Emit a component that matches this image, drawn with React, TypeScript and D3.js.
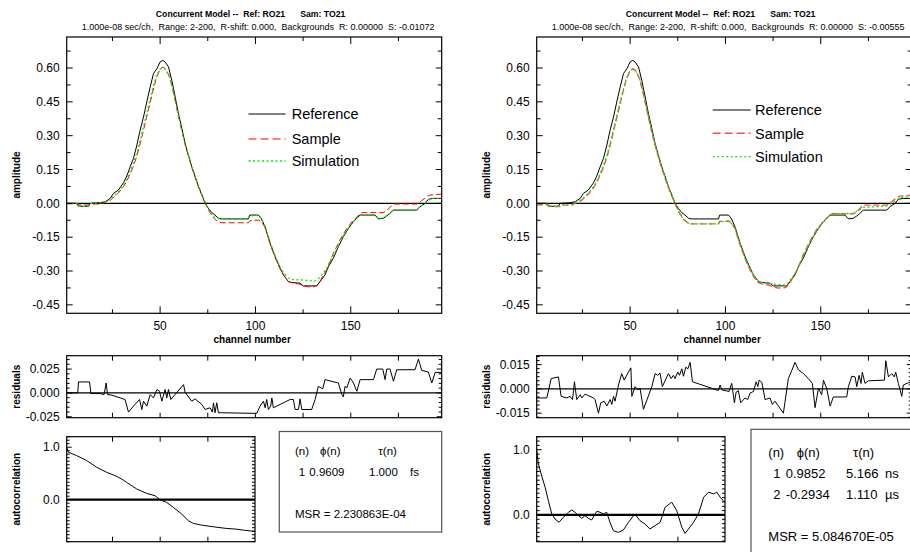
import React from "react";
import * as d3 from "d3";

type Pt = [number, number];

// Reference waveform RO21: [channel, amplitude]
const reference: Pt[] = [
  [1, 0], [6.3, 0], [7.2, -0.013], [12.4, -0.013], [13.3, 0], [18.5, 0.003], [21.2, 0.007],
  [23.8, 0.022], [25.5, 0.044], [28.1, 0.059], [30.8, 0.091], [32.5, 0.121], [34.3, 0.162],
  [36, 0.199], [37.8, 0.258], [39.5, 0.324], [41.3, 0.383], [43, 0.45], [44.8, 0.516],
  [46.5, 0.575], [48.3, 0.597], [50, 0.627], [51.4, 0.634], [52.6, 0.627], [54.4, 0.605],
  [56.1, 0.546], [57.9, 0.472], [59.6, 0.398], [61.4, 0.332], [63.1, 0.265], [64.8, 0.214],
  [66.6, 0.162], [68.4, 0.118], [70.1, 0.074], [71.9, 0.037], [73.6, 0], [75.3, -0.022],
  [77.1, -0.041], [78.8, -0.052], [80.6, -0.066], [82, -0.069], [96.3, -0.069], [97, -0.052],
  [101.6, -0.052], [103, -0.066], [105, -0.103], [107.7, -0.177], [110.3, -0.236], [113, -0.288],
  [114.7, -0.317], [117.3, -0.347], [119, -0.351], [123.4, -0.354], [125.1, -0.366],
  [132.2, -0.366], [133.9, -0.347], [136.5, -0.317], [138.3, -0.28], [140.9, -0.243],
  [143.5, -0.192], [146.1, -0.148], [148.8, -0.111], [151.4, -0.081], [154.9, -0.052],
  [162.7, -0.052], [164.5, -0.069], [167.1, -0.066], [168.9, -0.056], [170.6, -0.044],
  [172.3, -0.03], [184.6, -0.03], [186.3, -0.015], [189, 0], [190.7, 0.018], [193.3, 0.022],
  [197.7, 0.022],
];

// Sample TO21, background S = -0.01072
const sampleA: Pt[] = [
  [1, -0.002], [7, -0.002], [7.5, -0.007], [13, -0.007], [13.5, -0.003], [19.5, -0.003],
  [21, 0.005], [24, 0.015], [26, 0.03], [28, 0.045], [30, 0.065], [32, 0.09], [34, 0.125],
  [36, 0.165], [38, 0.215], [40, 0.28], [42, 0.35], [44, 0.42], [46, 0.49], [48, 0.555],
  [50, 0.595], [51.5, 0.605], [53, 0.595], [55, 0.56], [57, 0.49], [59, 0.41], [61, 0.335],
  [63, 0.265], [65, 0.205], [67, 0.15], [69, 0.1], [71, 0.055], [73, 0.015], [74, -0.005],
  [76, -0.04], [78, -0.065], [80, -0.08], [82, -0.086], [96.3, -0.086], [97, -0.077],
  [101.6, -0.074], [103, -0.081], [105, -0.105], [107.7, -0.18], [110.3, -0.24], [113, -0.292],
  [115, -0.322], [117.3, -0.347], [119, -0.352], [123, -0.358], [125, -0.366], [127, -0.369],
  [130, -0.372], [132, -0.365], [134, -0.345], [135.5, -0.32], [137.4, -0.295], [140.9, -0.221],
  [144.4, -0.162], [147.9, -0.111], [151.4, -0.074], [155.8, -0.041], [167.1, -0.041],
  [168.9, -0.032], [172.3, -0.003], [184.6, -0.003], [187.2, 0.012], [189.9, 0.03],
  [191.6, 0.037], [197.7, 0.041],
];

const simulationA: Pt[] = [
  [1, 0], [6.3, 0], [7.2, -0.013], [12.4, -0.013], [13.3, 0], [18.5, 0.002], [21, 0.006],
  [24, 0.018], [26, 0.035], [28, 0.05], [30, 0.072], [32, 0.1], [34, 0.135], [36, 0.178],
  [38, 0.23], [40, 0.295], [42, 0.365], [44, 0.435], [46, 0.505], [48, 0.565], [50, 0.596],
  [51.5, 0.6], [53, 0.592], [55, 0.558], [57, 0.49], [59, 0.412], [61, 0.338], [63, 0.27],
  [65, 0.21], [67, 0.155], [69, 0.105], [71, 0.06], [73, 0.018], [74.5, -0.01], [76, -0.035],
  [78, -0.058], [80, -0.067], [82, -0.069], [96.3, -0.069], [97, -0.054], [101.6, -0.054],
  [103, -0.068], [105, -0.1], [107.7, -0.172], [110.3, -0.232], [113, -0.283], [115, -0.312],
  [117.3, -0.33], [119, -0.338], [125, -0.34], [131, -0.345], [133, -0.335], [135, -0.315],
  [137.4, -0.285], [140.9, -0.23], [144.4, -0.17], [147.9, -0.118], [151.4, -0.08],
  [154.9, -0.052], [162.7, -0.052], [164.5, -0.068], [167.1, -0.064], [168.9, -0.055],
  [170.6, -0.043], [172.3, -0.03], [184.6, -0.03], [186.3, -0.015], [189, 0.002],
  [190.7, 0.016], [193.3, 0.022], [197.7, 0.022],
];

// Sample TO21, background S = -0.00555
const sampleB: Pt[] = [
  [1, -0.006], [7, -0.006], [8, -0.014], [13, -0.014], [14, -0.008], [19.5, -0.008],
  [21, 0], [24, 0.01], [26, 0.025], [28, 0.04], [30, 0.06], [32, 0.085], [34, 0.12],
  [36, 0.16], [38, 0.21], [40, 0.275], [42, 0.345], [44, 0.415], [46, 0.485], [48, 0.55],
  [50, 0.588], [51.5, 0.597], [53, 0.588], [55, 0.553], [57, 0.484], [59, 0.404], [61, 0.33],
  [63, 0.26], [65, 0.2], [67, 0.145], [69, 0.095], [71, 0.05], [73, 0.01], [74, -0.01],
  [76, -0.045], [78, -0.07], [80, -0.085], [82, -0.091], [96.3, -0.091], [97, -0.08],
  [101.6, -0.078], [103, -0.086], [105, -0.11], [107.7, -0.185], [110.3, -0.245],
  [113, -0.297], [115, -0.327], [117.3, -0.352], [119, -0.357], [123, -0.363], [125, -0.371],
  [127, -0.374], [130, -0.377], [132, -0.37], [134, -0.35], [135.5, -0.325], [137.4, -0.3],
  [140.9, -0.226], [144.4, -0.167], [147.9, -0.116], [151.4, -0.079], [155.8, -0.046],
  [167.1, -0.046], [168.9, -0.037], [172.3, -0.008], [184.6, -0.008], [187.2, 0.007],
  [189.9, 0.025], [191.6, 0.032], [197.7, 0.036],
];

const simulationB: Pt[] = [
  [1, -0.004], [7, -0.004], [8, -0.013], [13, -0.013], [14, -0.006], [19.5, -0.005],
  [21, 0.002], [24, 0.013], [26, 0.028], [28, 0.044], [30, 0.064], [32, 0.09], [34, 0.126],
  [36, 0.167], [38, 0.218], [40, 0.283], [42, 0.352], [44, 0.422], [46, 0.492], [48, 0.553],
  [50, 0.588], [51.5, 0.594], [53, 0.586], [55, 0.552], [57, 0.485], [59, 0.406], [61, 0.332],
  [63, 0.264], [65, 0.204], [67, 0.149], [69, 0.099], [71, 0.054], [73, 0.013], [74.5, -0.015],
  [76, -0.045], [78, -0.072], [80, -0.087], [82, -0.091], [96.3, -0.091], [97, -0.082],
  [101.6, -0.08], [103, -0.088], [105, -0.112], [107.7, -0.183], [110.3, -0.243],
  [113, -0.294], [115, -0.322], [117.3, -0.345], [119, -0.35], [125, -0.358], [131, -0.362],
  [133, -0.352], [135, -0.328], [137.4, -0.298], [140.9, -0.233], [144.4, -0.172],
  [147.9, -0.12], [151.4, -0.083], [155.5, -0.045], [166.5, -0.045], [168.9, -0.036],
  [172.3, -0.018], [184.6, -0.012], [187.2, 0], [189.9, 0.015], [191.6, 0.025], [197.7, 0.03],
];

// Weighted residuals per channel
const residualsA: Pt[] = [
  [1, 0], [6.8, 0], [7.2, 0.0115], [13, 0.0115], [13.7, -0.0007], [18.5, -0.0007],
  [20.6, -0.0017], [21.7, 0.0104], [22.4, -0.0017], [24.7, -0.0024], [31.6, -0.0069],
  [33.4, -0.0201], [36, -0.0139], [39.2, -0.0069], [40.4, -0.0174], [41.3, -0.0087],
  [43, -0.0139], [44.8, -0.0017], [46.5, -0.0052], [48.3, 0.0035], [49.7, 0.0017],
  [50.9, -0.0087], [52.6, 0.0035], [53.5, -0.0052], [54.4, 0.0035], [55.6, -0.0069],
  [62.3, 0.0087], [63.1, 0.0007], [66.6, -0.0087], [68.4, -0.0063], [71.9, -0.0122],
  [73.6, -0.0174], [76.2, -0.0156], [77.4, -0.0201], [78, -0.0104], [78.8, -0.0208],
  [79.7, -0.0104], [80.6, -0.0208], [82.3, -0.0208], [100.7, -0.0215], [102.4, -0.0139],
  [104.2, -0.0087], [105.1, -0.0156], [105.9, -0.0069], [106.8, -0.0174], [108, -0.0139],
  [108.6, -0.0052], [109.4, -0.0156], [118.2, -0.0069], [119.9, -0.0069], [120.8, -0.0174],
  [122.6, -0.0174], [123.4, -0.0063], [124.3, -0.0174], [129.5, -0.0174], [131.3, -0.0069],
  [133, 0.0069], [135.3, 0.0042], [136.5, 0.0139], [143.5, 0.0104], [145.3, -0.0017],
  [146.1, -0.0042], [147, 0.0069], [147.9, 0.0052], [149.7, 0.0156], [151.4, 0.0104],
  [153.2, 0.0017], [154.9, 0.0139], [161.9, 0.0139], [163.6, 0.025], [166.8, 0.025],
  [168, 0.0139], [168.9, 0.025], [170.6, 0.025], [172.4, 0.0122], [174.1, 0.0243],
  [183.7, 0.0243], [185.5, 0.0354], [187.2, 0.0236], [190.7, 0.0219], [192.5, 0.0104],
  [194.3, 0.0215], [197.7, 0.0215],
];

const residualsB: Pt[] = [
  [1, -0.0056], [6.3, -0.0056], [8.6, 0.0064], [12.4, 0.0074], [13.8, -0.0046],
  [16.8, -0.0056], [18.5, -0.0046], [19.8, -0.0066], [20.8, 0.0044], [22, -0.0066],
  [23.8, -0.0036], [24.7, -0.0056], [26.4, -0.0032], [28.1, -0.0042], [30.8, -0.0056],
  [31.6, -0.0066], [33.4, -0.015], [34.6, -0.0086], [36.4, -0.0076], [37.8, -0.0106],
  [39.5, -0.0066], [40.4, -0.0096], [41.3, -0.0046], [42.1, -0.0076], [43.9, 0.0024],
  [45.6, 0.0094], [46.9, 0.0054], [49.1, 0.0104], [50.4, 0.013], [50.9, -0.0046],
  [52.6, 0.0014], [54, -0.0006], [55.2, 0.0004], [57, -0.0126], [61.4, 0.0014],
  [63.1, 0.0094], [64.5, 0.0084], [65.7, 0.0098], [66.9, 0.0014], [70.1, 0.0094],
  [71.5, 0.0064], [72.7, 0.0084], [73.6, 0.0064], [75, 0.0104], [75.9, 0.0084],
  [77.1, 0.0124], [78, 0.0078], [79.2, 0.0134], [80.3, 0.0124], [81.5, 0.0164],
  [82.7, 0.0044], [96.3, -0.001], [97.2, 0.0024], [98.1, -0.0006], [101.9, -0.0016],
  [103.3, 0.0034], [104.7, -0.0086], [105.6, -0.002], [106.8, -0.0012], [108, -0.0086],
  [110.3, -0.0056], [111.7, -0.0066], [112.9, -0.0026], [114.7, -0.0016], [116.1, 0.0044],
  [117, 0.0014], [117.7, 0.0054], [119.1, 0.004], [120.8, -0.0066], [123.4, -0.0056],
  [124.6, -0.0096], [126, -0.0076], [130.4, -0.015], [133, 0.0064], [134.8, 0.0114],
  [136.5, 0.0164], [138.3, 0.0118], [140.9, 0.0094], [143.5, 0.0064], [145.6, 0.0034],
  [147, -0.0116], [148.8, 0.0004], [150.5, -0.0036], [151.4, 0.0054], [153.1, 0.0004],
  [154.9, -0.0106], [156.6, -0.005], [163.6, -0.005], [164.5, 0.0014], [166.3, 0.0078],
  [168, 0.0074], [168.9, 0.0014], [170.1, 0.0084], [171.1, 0.0034], [171.8, 0.0104],
  [173.2, 0.0034], [175, 0.005], [183.4, 0.0054], [184.1, 0.0174], [185.5, 0.0074],
  [187.2, 0.0094], [188.6, 0.0074], [189.3, 0.0104], [190.7, 0.0034], [192.5, -0.0046],
  [193.3, 0.0024], [195.9, 0.0038], [197.7, 0.0038],
];

// Autocorrelation of the residuals: [lag, value]
const autocorrA: Pt[] = [
  [0, 1], [0.9, 0.904], [5.2, 0.841], [10.5, 0.745], [15.7, 0.618], [20.9, 0.522],
  [25.3, 0.459], [28.8, 0.395], [31.4, 0.331], [36.7, 0.204], [41.9, 0.121], [46.3, 0.076],
  [48.9, 0], [52.4, -0.051], [55.9, -0.146], [60.3, -0.274], [63.8, -0.401], [66.4, -0.452],
  [70.7, -0.484], [76.9, -0.516], [83.9, -0.548], [89.1, -0.561], [92.6, -0.58], [98.7, -0.605],
];

const autocorrB: Pt[] = [
  [0, 0.99], [0.9, 0.785], [2.3, 0.631], [4.4, 0.426], [6.1, 0.221], [7.9, 0.015],
  [9.6, -0.062], [11.7, -0.113], [14, -0.036], [16.6, 0.041], [18.4, 0.077], [20.1, 0.041],
  [21.9, -0.01], [23.6, -0.051], [25.3, -0.01], [27.1, -0.051], [28.8, -0.077], [31.5, 0.056],
  [33.2, 0.041], [35, 0.015], [36.7, 0.041], [38.4, -0.113], [40.2, -0.241], [42.8, -0.267],
  [45.4, -0.231], [48.1, -0.113], [51.5, 0.015], [54.1, -0.087], [56.8, -0.138],
  [59.4, -0.215], [62, -0.164], [64.7, -0.113], [67.3, 0.118], [70.8, 0.195], [73.4, 0.067],
  [76.1, -0.19], [77.8, -0.282], [79.6, -0.215], [82.2, -0.113], [84.8, 0.015], [87.5, 0.272],
  [90.1, 0.349], [92.7, 0.323], [94.4, 0.349], [96.2, 0.272], [98.4, 0.195],
];

// Fit results
const fitIndexA = [1];
const fitPhiA = [0.9609];
const fitTauA = [1.0];
const fitUnitA = ["fs"];
const msrA = 2.230863e-4;

const fitIndexB = [1, 2];
const fitPhiB = [0.9852, -0.2934];
const fitTauB = [5.166, 1.11];
const fitUnitB = ["ns", "\u00b5s"];
const msrB = 5.08467e-5;

const backgroundA = -0.01072;
const backgroundB = -0.00555;

const amplitudeLabels = [-0.45, -0.3, -0.15, 0, 0.15, 0.3, 0.45, 0.6];
const channelLabels = [50, 100, 150];
const channelTicks = [25, 50, 75, 100, 125, 150, 175];
const lagTicks = [24, 49, 74];
const resLabelsA = [-0.025, 0, 0.025];
const resLabelsB = [-0.015, 0, 0.015];
const acLabels = [0, 1];

const FONT = "'Liberation Sans', Arial, Helvetica, sans-serif";

// plain ASCII hyphen for negative numbers
const locale = d3.formatLocale({ decimal: ".", thousands: ",", grouping: [3], currency: ["", ""], minus: "-" });

function stepValues(d0: number, d1: number, step: number): number[] {
  const k0 = Math.ceil(d0 / step - 1e-9);
  const k1 = Math.floor(d1 / step + 1e-9);
  return d3.range(k0, k1 + 1).map((k) => +(k * step).toFixed(6));
}

function msrFormat(v: number): string {
  const [m, e] = v.toExponential(6).split("e");
  const n = parseInt(e, 10);
  return `MSR = ${m}E${n < 0 ? "-" : "+"}${String(Math.abs(n)).padStart(2, "0")}`;
}

interface LegendSpec { x1: number; x2: number; tx: number; ys: number[] }
interface BoxSpec {
  x: number; y: number; w: number; h: number; font: number;
  headY: number; rowY: number[]; msrY: number;
  cols: { n: number; phi: number; tau: number; unit: number; phiHead: number; tauHead: number; nHead: number };
}

interface PanelSpec {
  dx: number;
  background: number;
  sample: Pt[];
  simulation: Pt[];
  residuals: Pt[];
  autocorr: Pt[];
  resDomain: [number, number];
  resLabels: number[];
  resStep: number;
  acDomain: [number, number];
  sampleColor: string;
  sampleWidth: number;
  legend: LegendSpec;
  box: BoxSpec;
  fitIndex: number[];
  fitPhi: number[];
  fitTau: number[];
  fitUnit: string[];
  msr: number;
}

function Panel({ s }: { s: PanelSpec }) {
  const dx = s.dx;
  const L = dx + 66.7;
  const R = dx + 441.7;
  const mTop = 37, mBot = 313.3;
  const rTop = 355.7, rBot = 417.7;
  const aL = dx + 66.7, aR = dx + 255, aTop = 436.7, aBot = 541.7;
  const cx = (L + R) / 2;

  const x = d3.scaleLinear().domain([1, 197.7]).range([L, R]);
  const y = d3.scaleLinear().domain([-0.4875, 0.7375]).range([mBot, mTop]);
  const yr = d3.scaleLinear().domain(s.resDomain).range([rBot, rTop]);
  const xa = d3.scaleLinear().domain([0, 98.7]).range([aL, aR]);
  const ya = d3.scaleLinear().domain(s.acDomain).range([aBot, aTop]);

  const mainLine = d3.line<Pt>().x((d) => x(d[0])).y((d) => y(d[1]));
  const resLine = d3.line<Pt>().x((d) => x(d[0])).y((d) => yr(d[1]));
  const acLine = d3.line<Pt>().x((d) => xa(d[0])).y((d) => ya(d[1]));

  const clipMain = `clip-main-${dx}`;
  const clipRes = `clip-res-${dx}`;
  const clipAc = `clip-ac-${dx}`;

  const ticks: JSX.Element[] = [];
  let key = 0;
  const tick = (x1: number, y1: number, x2: number, y2: number) =>
    ticks.push(<line key={key++} x1={x1} y1={y1} x2={x2} y2={y2} stroke="#000" strokeWidth={1} />);

  // channel ticks on the amplitude and residual frames
  channelTicks.forEach((c) => {
    const len = channelLabels.includes(c) ? 7 : 4;
    tick(x(c), mTop, x(c), mTop + len);
    tick(x(c), mBot, x(c), mBot - len);
    tick(x(c), rTop, x(c), rTop + 5);
    tick(x(c), rBot, x(c), rBot - 5);
  });
  stepValues(-0.4875, 0.7375, 0.075).forEach((v) => {
    const major = Math.abs(Math.round(v / 0.075)) % 2 === 0;
    const len = major ? 6 : 4;
    tick(L, y(v), L + len, y(v));
    tick(R, y(v), R - len, y(v));
  });
  // residual ticks
  stepValues(s.resDomain[0], s.resDomain[1], s.resStep).forEach((v) => {
    const major = s.resLabels.some((l) => Math.abs(l - v) < 1e-6);
    const len = major ? 5 : 3;
    tick(L, yr(v), L + len, yr(v));
    tick(R, yr(v), R - len, yr(v));
  });
  // autocorrelation ticks
  lagTicks.forEach((l) => {
    tick(xa(l), aTop, xa(l), aTop + 5);
    tick(xa(l), aBot, xa(l), aBot - 5);
  });
  stepValues(s.acDomain[0], s.acDomain[1], 1 / 15).forEach((v) => {
    const major = acLabels.some((l) => Math.abs(l - v) < 1e-6);
    const len = major ? 5 : 3;
    tick(aL, ya(v), aL + len, ya(v));
    tick(aR, ya(v), aR - len, ya(v));
  });

  const fmtAmp = locale.format(".2f");
  const fmtRes = locale.format(".3f");
  const fmtAc = locale.format(".1f");
  const fmtPhi = locale.format(".4f");
  const fmtTau = locale.format(".3f");

  const sub = `1.000e-08 sec/ch,  Range: 2-200,  R-shift: 0.000,  Backgrounds  R: 0.00000  S: ${s.background.toFixed(5)}`;

  const lg = s.legend;
  const b = s.box;
  const bx = dx + b.x;

  return (
    <g>
      <defs>
        <clipPath id={clipMain}><rect x={L} y={mTop} width={R - L} height={mBot - mTop} /></clipPath>
        <clipPath id={clipRes}><rect x={L} y={rTop} width={R - L} height={rBot - rTop} /></clipPath>
        <clipPath id={clipAc}><rect x={aL} y={aTop} width={aR - aL} height={aBot - aTop} /></clipPath>
      </defs>

      {/* headings */}
      <text x={cx + 31} y={17} textAnchor="end" fontSize={8.7} fontWeight="bold" style={{ whiteSpace: "pre" }}>
        {"Concurrent Model --  Ref: RO21"}
      </text>
      <text x={cx + 46} y={17} textAnchor="start" fontSize={8.7} fontWeight="bold">Sam: TO21</text>
      <text x={cx + 4} y={30.2} textAnchor="middle" fontSize={9} style={{ whiteSpace: "pre" }}>{sub}</text>

      {/* amplitude panel */}
      <line x1={L} x2={R} y1={y(0)} y2={y(0)} stroke="#000" strokeWidth={1.3} />
      <g clipPath={`url(#${clipMain})`} fill="none">
        <path d={mainLine(reference) ?? ""} stroke="#000" strokeWidth={1} />
        <path d={mainLine(s.sample) ?? ""} stroke={s.sampleColor} strokeWidth={s.sampleWidth} strokeDasharray="6,3" />
        <path d={mainLine(s.simulation) ?? ""} stroke="#00ee00" strokeWidth={1.3} strokeDasharray="2,2.5" />
      </g>
      <rect x={L} y={mTop} width={R - L} height={mBot - mTop} fill="none" stroke="#000" strokeWidth={1.2} />
      {amplitudeLabels.map((v) => (
        <text key={v} x={L - 7} y={y(v)} dy="0.35em" textAnchor="end" fontSize={12}>{fmtAmp(v)}</text>
      ))}
      {channelLabels.map((c) => (
        <text key={c} x={x(c)} y={326} dy="0.35em" textAnchor="middle" fontSize={12}>{c}</text>
      ))}
      <text x={cx - 2} y={339} dy="0.35em" textAnchor="middle" fontSize={10} fontWeight="bold">channel number</text>
      <text transform={`translate(${dx + 16},175) rotate(-90)`} dy="0.35em" textAnchor="middle" fontSize={10} fontWeight="bold">amplitude</text>

      {/* legend */}
      <line x1={dx + lg.x1} x2={dx + lg.x2} y1={lg.ys[0]} y2={lg.ys[0]} stroke="#000" strokeWidth={1} />
      <line x1={dx + lg.x1} x2={dx + lg.x2} y1={lg.ys[1]} y2={lg.ys[1]} stroke={s.sampleColor} strokeWidth={s.sampleWidth} strokeDasharray="8,4" />
      <line x1={dx + lg.x1} x2={dx + lg.x2} y1={lg.ys[2]} y2={lg.ys[2]} stroke="#00ee00" strokeWidth={1.3} strokeDasharray="2,2.5" />
      {["Reference", "Sample", "Simulation"].map((t, i) => (
        <text key={t} x={dx + lg.tx} y={lg.ys[i]} dy="0.36em" fontSize={14.5}>{t}</text>
      ))}

      {/* residuals */}
      <line x1={L} x2={R} y1={yr(0)} y2={yr(0)} stroke="#000" strokeWidth={1.3} />
      <g clipPath={`url(#${clipRes})`}>
        <path d={resLine(s.residuals) ?? ""} fill="none" stroke="#000" strokeWidth={1} />
      </g>
      <rect x={L} y={rTop} width={R - L} height={rBot - rTop} fill="none" stroke="#000" strokeWidth={1.2} />
      {s.resLabels.map((v) => (
        <text key={v} x={L - 7} y={yr(v)} dy="0.35em" textAnchor="end" fontSize={12}>{fmtRes(v)}</text>
      ))}
      <text transform={`translate(${dx + 16},${(rTop + rBot) / 2}) rotate(-90)`} dy="0.35em" textAnchor="middle" fontSize={10} fontWeight="bold">residuals</text>

      {/* autocorrelation */}
      <line x1={aL} x2={aR} y1={ya(0)} y2={ya(0)} stroke="#000" strokeWidth={2.2} />
      <g clipPath={`url(#${clipAc})`}>
        <path d={acLine(s.autocorr) ?? ""} fill="none" stroke="#000" strokeWidth={1} />
      </g>
      <rect x={aL} y={aTop} width={aR - aL} height={aBot - aTop} fill="none" stroke="#000" strokeWidth={1.2} />
      {acLabels.map((v) => (
        <text key={v} x={aL - 7} y={ya(v)} dy="0.35em" textAnchor="end" fontSize={12}>{fmtAc(v)}</text>
      ))}
      <text transform={`translate(${dx + 16},${(aTop + aBot) / 2}) rotate(-90)`} dy="0.35em" textAnchor="middle" fontSize={10} fontWeight="bold">autocorrelation</text>

      {ticks}

      {/* fit result box */}
      <rect x={bx} y={b.y} width={b.w} height={b.h} fill="#fff" stroke="#555" strokeWidth={1.2} />
      <g fontSize={b.font}>
        <text x={bx + b.cols.nHead} y={b.headY} dy="0.35em">(n)</text>
        <text x={bx + b.cols.phiHead} y={b.headY} dy="0.35em">{"\u03d5(n)"}</text>
        <text x={bx + b.cols.tauHead} y={b.headY} dy="0.35em">{"\u03c4(n)"}</text>
        {s.fitIndex.map((n, i) => (
          <g key={n}>
            <text x={bx + b.cols.n} y={b.rowY[i]} dy="0.35em">{n}</text>
            <text x={bx + b.cols.phi} y={b.rowY[i]} dy="0.35em">{fmtPhi(s.fitPhi[i])}</text>
            <text x={bx + b.cols.tau} y={b.rowY[i]} dy="0.35em">{fmtTau(s.fitTau[i])}</text>
            <text x={bx + b.cols.unit} y={b.rowY[i]} dy="0.35em">{s.fitUnit[i]}</text>
          </g>
        ))}
        <text x={bx + b.cols.nHead} y={b.msrY} dy="0.35em">{msrFormat(s.msr)}</text>
      </g>
    </g>
  );
}

const panels: PanelSpec[] = [
  {
    dx: 0,
    background: backgroundA,
    sample: sampleA,
    simulation: simulationA,
    residuals: residualsA,
    autocorr: autocorrA,
    resDomain: [-0.026, 0.039],
    resLabels: resLabelsA,
    resStep: 0.005,
    acDomain: [-0.8, 1.2],
    sampleColor: "#ff0000",
    sampleWidth: 1,
    legend: { x1: 248.5, x2: 285.5, tx: 291.7, ys: [114, 139, 161] },
    box: {
      x: 279.3, y: 431.5, w: 162.4, h: 100.5, font: 11.5,
      headY: 450.5, rowY: [472], msrY: 513.5,
      cols: { nHead: 15.7, phiHead: 40.7, tauHead: 99, n: 19.5, phi: 30, tau: 89.7, unit: 130.7 },
    },
    fitIndex: fitIndexA,
    fitPhi: fitPhiA,
    fitTau: fitTauA,
    fitUnit: fitUnitA,
    msr: msrA,
  },
  {
    dx: 470,
    background: backgroundB,
    sample: sampleB,
    simulation: simulationB,
    residuals: residualsB,
    autocorr: autocorrB,
    resDomain: [-0.0178, 0.0205],
    resLabels: resLabelsB,
    resStep: 0.0025,
    acDomain: [-0.41, 1.2],
    sampleColor: "#ff4a4a",
    sampleWidth: 1.4,
    legend: { x1: 242.7, x2: 280.7, tx: 285, ys: [110, 133.3, 156.7] },
    box: {
      x: 281, y: 429.3, w: 200, h: 140, font: 13,
      headY: 452.3, rowY: [473.3, 494.3], msrY: 536.7,
      cols: { nHead: 17.3, phiHead: 45.7, tauHead: 102, n: 22.3, phi: 34.7, tau: 95, unit: 134 },
    },
    fitIndex: fitIndexB,
    fitPhi: fitPhiB,
    fitTau: fitTauB,
    fitUnit: fitUnitB,
    msr: msrB,
  },
];

export default function App() {
  return (
    <div style={{ position: "absolute", left: 0, top: 0 }}>
      <svg width={910} height={552} viewBox="0 0 910 552" style={{ display: "block", background: "#fff" }} fontFamily={FONT}>
        <rect x={0} y={0} width={910} height={552} fill="#fff" />
        {panels.map((p) => <Panel key={p.dx} s={p} />)}
      </svg>
    </div>
  );
}
